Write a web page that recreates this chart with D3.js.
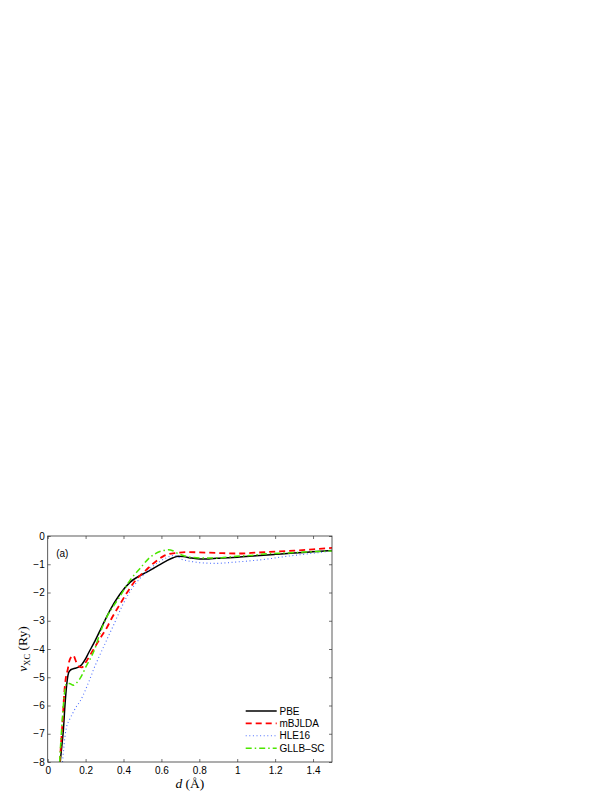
<!DOCTYPE html>
<html>
<head>
<meta charset="utf-8">
<script src="https://cdn.jsdelivr.net/npm/d3@7"></script>
<style>
  body { margin: 0; background: #fff; }
  svg { display: block; }
</style>
</head>
<body>
<div id="chart"></div>
<script>
// values
const seriesNames = ['PBE', 'mBJLDA', 'HLE16', 'GLLB-SC'];

const pbeX = [0.066, 0.075, 0.083, 0.091, 0.1, 0.109, 0.118, 0.13, 0.144, 0.16, 0.179, 0.197, 0.214, 0.249, 0.285, 0.311, 0.35, 0.381, 0.434, 0.487, 0.52, 0.557, 0.592, 0.627, 0.662, 0.689, 0.715, 0.76, 0.803, 0.85, 0.89, 0.95, 1.0, 1.1, 1.2, 1.3, 1.4, 1.5];
const pbeY = [-8, -7.4, -6.85, -6.0, -5.28, -4.87, -4.76, -4.71, -4.68, -4.65, -4.56, -4.38, -4.16, -3.72, -3.22, -2.86, -2.38, -2.06, -1.64, -1.4, -1.29, -1.15, -1.01, -0.88, -0.77, -0.72, -0.73, -0.78, -0.81, -0.81, -0.79, -0.77, -0.75, -0.7, -0.65, -0.6, -0.56, -0.51];

const mbjX = [0.064, 0.072, 0.08, 0.087, 0.095, 0.105, 0.113, 0.122, 0.135, 0.15, 0.165, 0.18, 0.2, 0.225, 0.249, 0.279, 0.314, 0.337, 0.381, 0.417, 0.451, 0.487, 0.52, 0.548, 0.58, 0.609, 0.64, 0.68, 0.733, 0.8, 0.89, 1.0, 1.1, 1.2, 1.3, 1.4, 1.5];
const mbjY = [-8, -7.2, -6.4, -5.6, -5.05, -4.75, -4.45, -4.3, -4.23, -4.45, -4.62, -4.65, -4.48, -4.2, -3.93, -3.6, -3.22, -2.92, -2.42, -2.02, -1.68, -1.4, -1.2, -1.02, -0.85, -0.72, -0.64, -0.6, -0.57, -0.58, -0.6, -0.62, -0.59, -0.55, -0.52, -0.47, -0.42];

const hleX = [0.078, 0.085, 0.091, 0.1, 0.115, 0.13, 0.15, 0.17, 0.188, 0.206, 0.223, 0.24, 0.258, 0.276, 0.302, 0.32, 0.346, 0.372, 0.417, 0.47, 0.522, 0.557, 0.592, 0.627, 0.662, 0.68, 0.7, 0.74, 0.785, 0.84, 0.89, 0.94, 0.978, 1.066, 1.154, 1.26, 1.35, 1.5];
const hleY = [-8, -7.5, -7.1, -6.75, -6.5, -6.3, -6.05, -5.86, -5.62, -5.34, -5.06, -4.76, -4.47, -4.2, -3.82, -3.55, -3.18, -2.78, -2.16, -1.63, -1.28, -1.06, -0.9, -0.77, -0.69, -0.7, -0.8, -0.88, -0.93, -0.96, -0.97, -0.95, -0.93, -0.88, -0.82, -0.72, -0.65, -0.53];

const gllbX = [0.063, 0.07, 0.078, 0.088, 0.1, 0.115, 0.135, 0.155, 0.17, 0.183, 0.2, 0.228, 0.249, 0.267, 0.285, 0.311, 0.35, 0.381, 0.434, 0.487, 0.539, 0.592, 0.636, 0.66, 0.68, 0.715, 0.767, 0.83, 0.89, 0.996, 1.066, 1.154, 1.26, 1.35, 1.5];
const gllbY = [-8, -7.2, -6.4, -5.6, -5.22, -5.22, -5.28, -5.18, -5.05, -4.9, -4.65, -4.3, -3.99, -3.62, -3.28, -2.88, -2.45, -2.14, -1.57, -1.15, -0.76, -0.55, -0.49, -0.52, -0.6, -0.69, -0.76, -0.78, -0.78, -0.72, -0.69, -0.63, -0.6, -0.57, -0.53];

const xTicks = [0, 0.2, 0.4, 0.6, 0.8, 1, 1.2, 1.4];
const yTicks = [0, -1, -2, -3, -4, -5, -6, -7, -8];

const width = 612;
const height = 792;
const margin = { top: 536, right: 280, bottom: 30, left: 47.7 };

const svg = d3.select('#chart')
  .append('svg')
  .attr('width', width)
  .attr('height', height);

const x = d3.scaleLinear()
  .domain([0, 1.5])
  .range([margin.left, width - margin.right]);

const y = d3.scaleLinear()
  .domain([-8, 0])
  .range([height - margin.bottom, margin.top]);

const series = [
  { name: seriesNames[0], xs: pbeX, ys: pbeY, color: '#000000', w: 1.5, dash: null },
  { name: seriesNames[1], xs: mbjX, ys: mbjY, color: '#ff0000', w: 1.8, dash: '6,4' },
  { name: seriesNames[2], xs: hleX, ys: hleY, color: '#4d6fff', w: 1.1, dash: '1,2.6' },
  { name: seriesNames[3], xs: gllbX, ys: gllbY, color: '#4ce600', w: 1.5, dash: '6,3,1.5,3' }
];

svg.append('clipPath').attr('id', 'clip')
  .append('rect')
  .attr('x', x(0)).attr('y', y(0))
  .attr('width', x(1.5) - x(0)).attr('height', y(-8) - y(0));

const line = d3.line()
  .x(d => x(d[0]))
  .y(d => y(d[1]))
  .curve(d3.curveMonotoneX);

const lines = svg.append('g').attr('clip-path', 'url(#clip)');
series.forEach(s => {
  lines.append('path')
    .datum(s.xs.map((v, i) => [v, s.ys[i]]))
    .attr('fill', 'none')
    .attr('stroke', s.color)
    .attr('stroke-width', s.w)
    .attr('stroke-dasharray', s.dash)
    .attr('d', line);
});

// axes, MATLAB style: box with inward ticks
function xAxis(g) {
  g.attr('transform', `translate(0,${y(-8)})`)
    .call(d3.axisBottom(x).tickValues(xTicks).tickSize(-3).tickPadding(5)
      .tickFormat(d => d))
    .call(g => g.select('.domain').remove());
}
function yAxis(g) {
  g.attr('transform', `translate(${x(0)},0)`)
    .call(d3.axisLeft(y).tickValues(yTicks).tickSize(-3).tickPadding(3)
      .tickFormat(d => d < 0 ? '\u2212' + Math.abs(d) : d))
    .call(g => g.select('.domain').remove());
}
function xTop(g) {
  g.attr('transform', `translate(0,${y(0)})`)
    .call(d3.axisTop(x).tickValues(xTicks).tickSize(-3).tickFormat(''))
    .call(g => g.select('.domain').remove());
}
function yRight(g) {
  g.attr('transform', `translate(${x(1.5)},0)`)
    .call(d3.axisRight(y).tickValues(yTicks).tickSize(-3).tickFormat(''))
    .call(g => g.select('.domain').remove());
}

svg.append('g').call(xAxis);
svg.append('g').call(yAxis);
svg.append('g').call(xTop);
svg.append('g').call(yRight);

svg.selectAll('.tick line').attr('stroke', '#333').attr('stroke-width', 0.7);
svg.selectAll('.tick text')
  .attr('font-family', 'Liberation Sans, Arial, sans-serif')
  .attr('font-size', 10)
  .attr('fill', '#000');

svg.append('rect')
  .attr('x', x(0)).attr('y', y(0))
  .attr('width', x(1.5) - x(0)).attr('height', y(-8) - y(0))
  .attr('fill', 'none')
  .attr('stroke', '#333')
  .attr('stroke-width', 0.8);

// panel tag
svg.append('text')
  .attr('x', x(0) + 8.5).attr('y', y(0) + 20.5)
  .attr('font-family', 'Liberation Sans, Arial, sans-serif')
  .attr('font-size', 10)
  .text('(a)');

// axis titles
const xl = svg.append('text')
  .attr('x', (x(0) + x(1.5)) / 2).attr('y', 788)
  .attr('text-anchor', 'middle')
  .attr('font-family', 'Liberation Serif, DejaVu Serif, serif')
  .attr('font-size', 13.5);
xl.append('tspan').attr('font-style', 'italic').text('d');
xl.append('tspan').text(' (\u00C5)');

const yl = svg.append('text')
  .attr('transform', `translate(27,${(y(0) + y(-8)) / 2}) rotate(-90)`)
  .attr('text-anchor', 'middle')
  .attr('font-family', 'Liberation Serif, DejaVu Serif, serif')
  .attr('font-size', 13.5);
yl.append('tspan').attr('font-style', 'italic').text('v');
yl.append('tspan').attr('font-size', 8.5).attr('dy', 2.5).text('XC');
yl.append('tspan').attr('dy', -2.5).text(' (Ry)');

// legend
const legend = svg.append('g');
series.forEach((s, i) => {
  const ly = 711 + i * 12.4;
  legend.append('line')
    .attr('x1', 245.7).attr('x2', 276.7)
    .attr('y1', ly).attr('y2', ly)
    .attr('stroke', s.color)
    .attr('stroke-width', s.w)
    .attr('stroke-dasharray', s.dash);
  legend.append('text')
    .attr('x', 279.5).attr('y', ly + 3.6)
    .attr('font-family', 'Liberation Sans, Arial, sans-serif')
    .attr('font-size', 10)
    .text(s.name.replace('-', '\u2013'));
});
</script>
</body>
</html>
